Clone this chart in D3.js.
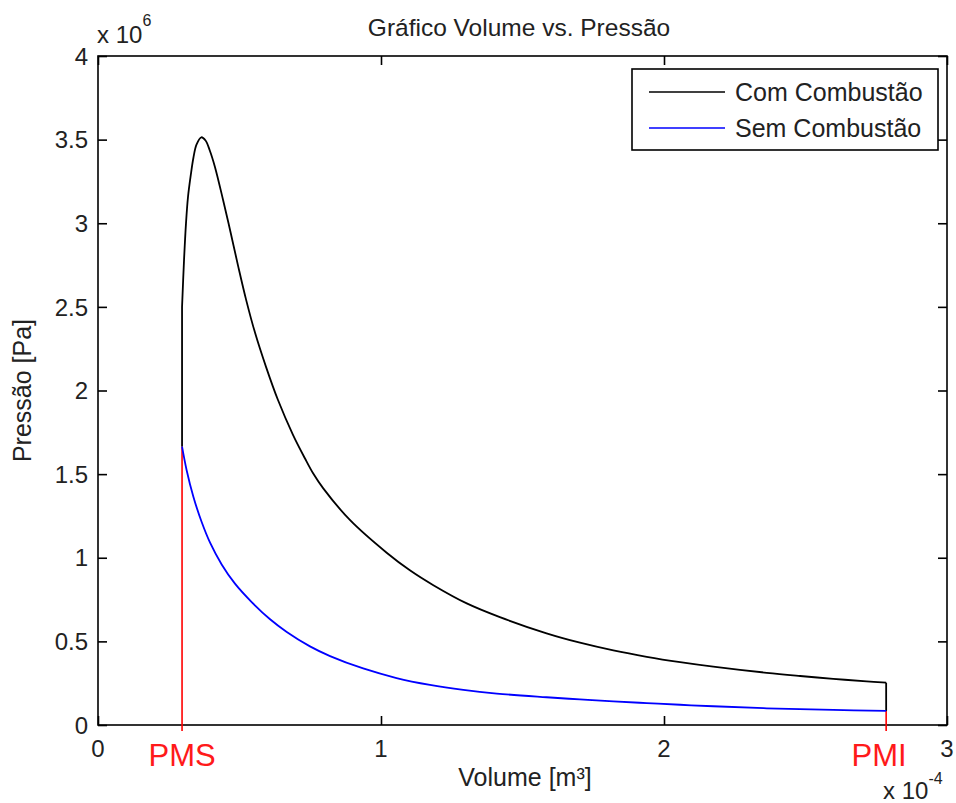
<!DOCTYPE html>
<html><head><meta charset="utf-8">
<script src="https://cdn.jsdelivr.net/npm/d3@7"></script>
<style>html,body{margin:0;padding:0;background:#fff;}svg{display:block;}</style>
</head><body>
<svg id="chart" width="956" height="803"></svg>
<script>
// ---- Data (volume in 1e-4 m³, pressure in 1e6 Pa) ----
const comVolume = [0.297,0.297,0.304,0.311,0.318,0.328,0.337,0.348,0.365,0.380,0.395,0.413,0.442,0.469,0.495,0.523,0.555,0.594,0.636,0.689,0.731,0.760,0.796,0.890,1.020,1.102,1.185,1.303,1.420,1.585,1.703,1.821,1.939,2.057,2.174,2.363,2.481,2.598,2.716,2.785,2.785];
const comPressure = [1.664,2.499,2.780,3.001,3.157,3.290,3.390,3.470,3.514,3.495,3.435,3.338,3.139,2.942,2.745,2.545,2.345,2.140,1.943,1.735,1.595,1.505,1.415,1.226,1.030,0.925,0.836,0.727,0.645,0.548,0.492,0.446,0.408,0.376,0.349,0.312,0.293,0.276,0.261,0.253,0.084];
const semVolume = [0.297,0.313,0.337,0.366,0.396,0.437,0.484,0.543,0.608,0.667,0.749,0.820,0.937,1.055,1.173,1.291,1.409,1.585,1.703,1.821,1.939,2.057,2.174,2.363,2.598,2.785];
const semPressure = [1.664,1.525,1.365,1.215,1.090,0.960,0.845,0.735,0.632,0.556,0.470,0.412,0.338,0.281,0.240,0.210,0.188,0.166,0.153,0.141,0.131,0.121,0.112,0.100,0.090,0.084];
const seriesNames = ["Com Combustão","Sem Combustão"];
const markerVolumes = [0.297, 2.785];
const markerLabels = ["PMS","PMI"];
const xTicks = [0,1,2,3];
const xTickLabels = ["0","1","2","3"];
const yTicks = [0,0.5,1,1.5,2,2.5,3,3.5,4];
const yTickLabels = ["0","0.5","1","1.5","2","2.5","3","3.5","4"];

const FONT = "'Liberation Sans', Arial, sans-serif";
const TXT = "#222";
const svg = d3.select("#chart");
const L = 98, R = 947, T = 56, B = 725;
const x = d3.scaleLinear().domain([0,3]).range([L,R]);
const y = d3.scaleLinear().domain([0,4]).range([B,T]);

// box
svg.append("rect").attr("x",L).attr("y",T).attr("width",R-L).attr("height",B-T)
  .attr("fill","#fff").attr("stroke","#000").attr("stroke-width",1.6);

// axes with inward ticks (mirrored)
const tl = 9;
const axB = d3.axisBottom(x).tickValues(xTicks).tickSize(-tl).tickFormat("");
const axT = d3.axisTop(x).tickValues(xTicks).tickSize(-tl).tickFormat("");
const axLf = d3.axisLeft(y).tickValues(yTicks).tickSize(-tl).tickFormat("");
const axRt = d3.axisRight(y).tickValues(yTicks).tickSize(-tl).tickFormat("");
[[axB,`translate(0,${B})`],[axT,`translate(0,${T})`],[axLf,`translate(${L},0)`],[axRt,`translate(${R},0)`]].forEach(([a,t])=>{
  const g = svg.append("g").attr("transform",t).call(a);
  g.select(".domain").remove();
  g.selectAll("line").attr("stroke","#000").attr("stroke-width",1.6);
});

// tick labels
svg.append("g").selectAll("text").data(xTicks).join("text")
  .attr("x",d=>x(d)).attr("y",757).attr("text-anchor","middle")
  .attr("font-family",FONT).attr("font-size",24).attr("fill",TXT)
  .text((d,i)=>xTickLabels[i]);
svg.append("g").selectAll("text").data(yTicks).join("text")
  .attr("x",88).attr("y",d=>y(d)).attr("dy","0.36em").attr("text-anchor","end")
  .attr("font-family",FONT).attr("font-size",24).attr("fill",TXT)
  .text((d,i)=>yTickLabels[i]);

// exponent labels
const e6 = svg.append("text").attr("x",97).attr("y",43).attr("font-family",FONT).attr("font-size",24).attr("fill",TXT);
e6.append("tspan").text("x 10");
e6.append("tspan").attr("dy",-17).attr("font-size",16).text("6");
const e4 = svg.append("text").attr("x",883).attr("y",799).attr("font-family",FONT).attr("font-size",24).attr("fill",TXT);
e4.append("tspan").text("x 10");
e4.append("tspan").attr("dy",-15).attr("font-size",16).text("-4");

// title and axis labels
svg.append("text").attr("x",519).attr("y",36).attr("text-anchor","middle")
  .attr("font-family",FONT).attr("font-size",24.5).attr("fill",TXT).text("Gráfico Volume vs. Pressão");
svg.append("text").attr("x",525).attr("y",786).attr("text-anchor","middle")
  .attr("font-family",FONT).attr("font-size",25).attr("fill",TXT).text("Volume [m³]");
svg.append("text").attr("transform",`translate(31,${(T+B)/2}) rotate(-90)`).attr("text-anchor","middle")
  .attr("font-family",FONT).attr("font-size",25).attr("fill",TXT).text("Pressão [Pa]");

const smooth = d3.line().x(d=>x(d[0])).y(d=>y(d[1])).curve(d3.curveCatmullRom.alpha(0.5));
const straight = d3.line().x(d=>x(d[0])).y(d=>y(d[1]));
const comData = comVolume.map((v,i)=>[v,comPressure[i]]);
const semData = semVolume.map((v,i)=>[v,semPressure[i]]);
const n = comData.length;

// black curve: vertical rise, expansion, vertical drop
const gBlack = svg.append("g").attr("fill","none").attr("stroke","#000").attr("stroke-width",1.8);
gBlack.append("path").datum(comData.slice(0,2)).attr("d",straight);
gBlack.append("path").datum(comData.slice(1,n-1)).attr("d",smooth);
gBlack.append("path").datum(comData.slice(n-2)).attr("d",straight);

// red markers
const markerTop = [semPressure[0], semPressure[semPressure.length-1]];
svg.append("g").selectAll("line").data(markerVolumes).join("line")
  .attr("x1",d=>x(d)).attr("x2",d=>x(d))
  .attr("y1",y(-0.036)).attr("y2",(d,i)=>y(markerTop[i]))
  .attr("stroke","#ff0000").attr("stroke-width",1.6);
svg.append("g").selectAll("text").data(markerVolumes).join("text")
  .attr("x",(d,i)=>x(d)+(i===1?-7:0)).attr("y",766).attr("text-anchor","middle")
  .attr("font-family",FONT).attr("font-size",31).attr("fill","#ff1a1a")
  .text((d,i)=>markerLabels[i]);

// blue curve
svg.append("path").datum(semData).attr("d",smooth).attr("fill","none").attr("stroke","#0000ff").attr("stroke-width",1.8);

// legend
const lg = svg.append("g");
lg.append("rect").attr("x",632).attr("y",69).attr("width",306).attr("height",81)
  .attr("fill","#fff").attr("stroke","#000").attr("stroke-width",1.6);
const colors = ["#000","#0000ff"];
const ly = [92,128];
seriesNames.forEach((nm,i)=>{
  lg.append("line").attr("x1",649).attr("x2",725).attr("y1",ly[i]).attr("y2",ly[i]).attr("stroke",colors[i]).attr("stroke-width",1.6);
  lg.append("text").attr("x",735).attr("y",ly[i]).attr("dy","0.36em")
    .attr("font-family",FONT).attr("font-size",25).attr("fill",TXT).text(nm);
});
</script>
</body></html>
